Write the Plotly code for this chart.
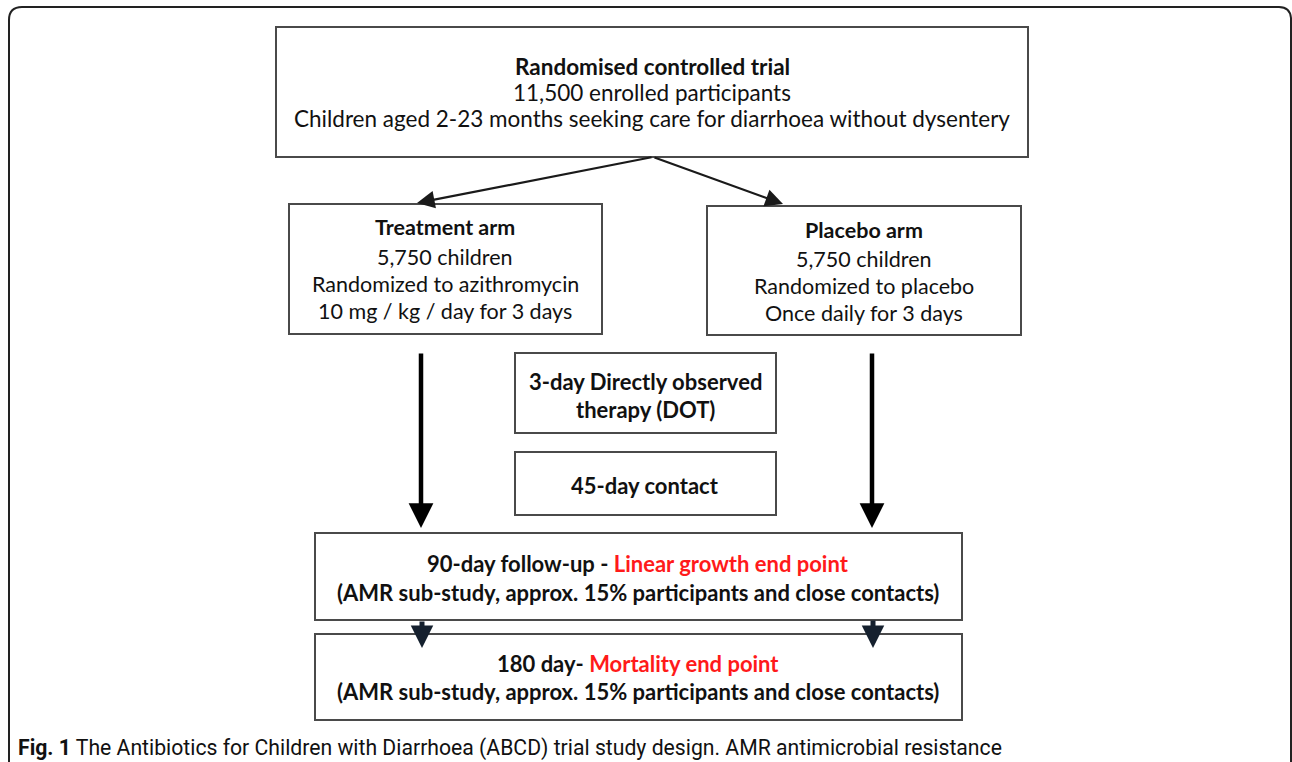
import plotly.graph_objects as go

W, H = 1292, 762

# Box geometry (x0, y0, x1, y1) in pixel space
box_names = ["trial", "treatment", "placebo", "dot", "contact", "followup", "mortality"]
box_x0 = [276, 289, 707, 515, 515, 315, 315]
box_y0 = [27, 204, 206, 353, 452, 533, 634]
box_x1 = [1028, 602, 1021, 776, 776, 962, 962]
box_y1 = [157, 334, 335, 433, 515, 620, 720]

# Text lines
line_text = [
    "<b>Randomised controlled trial</b>",
    "11,500 enrolled participants",
    "Children aged 2-23 months seeking care for diarrhoea without dysentery",
    "<b>Treatment arm</b>",
    "5,750 children",
    "Randomized to azithromycin",
    "10 mg / kg / day for 3 days",
    "<b>Placebo arm</b>",
    "5,750 children",
    "Randomized to placebo",
    "Once daily for 3 days",
    "<b>3-day Directly observed</b>",
    "<b>therapy (DOT)</b>",
    "<b>45-day contact</b>",
    "<b>90-day follow-up - <span style='color:#ff1a1a'>Linear growth end point</span></b>",
    "<b>(AMR sub-study, approx. 15% participants and close contacts)</b>",
    "<b>180 day- <span style='color:#ff1a1a'>Mortality end point</span></b>",
    "<b>(AMR sub-study, approx. 15% participants and close contacts)</b>",
]
line_x = [652, 652, 652, 445, 445, 445, 445, 864, 864, 864, 864, 645, 645, 645, 638, 638, 638, 638]
line_y = [66, 92, 118, 227, 257, 284, 311, 230, 259, 286, 313, 381, 409, 485, 563, 592, 663, 691]
line_size = [22.5, 22.5, 22.5, 21.5, 21.5, 21.5, 21.5, 21.5, 21.5, 21.5, 21.5,
             22, 22, 22, 22, 22, 22, 22]

caption = "<b>Fig. 1</b> The Antibiotics for Children with Diarrhoea (ABCD) trial study design. AMR antimicrobial resistance"

# Arrows
arrow_tail_x = [653, 653, 421, 872, 422, 873]
arrow_tail_y = [157, 157, 352, 352, 620, 619]
arrow_head_x = [417, 783, 421, 872, 422, 873]
arrow_head_y = [203, 204, 528, 528, 648, 648]
arrow_width = [2.2, 2.2, 4.5, 4.5, 5, 5]
arrow_color = ["#1a1a1a", "#1a1a1a", "#000000", "#000000", "#15202e", "#15202e"]
arrow_size = [1.6, 1.6, 1.1, 1.1, 0.9, 0.9]

fig = go.Figure()

shapes = []
shapes.append(dict(
    type="path", xref="x", yref="y",
    path="M 9,790 L 9,20 Q 9,7 22,7 L 1279,7 Q 1290,7 1291,18 L 1291,790",
    line=dict(color="#222222", width=2), fillcolor="rgba(0,0,0,0)"))
for x0, y0, x1, y1 in zip(box_x0, box_y0, box_x1, box_y1):
    shapes.append(dict(type="rect", xref="x", yref="y", x0=x0, y0=y0, x1=x1, y1=y1,
                       line=dict(color="#4a4a4a", width=2), fillcolor="white", layer="below"))

annotations = []
FONT = "Lato, Open Sans, sans-serif"
for t, x, y, s in zip(line_text, line_x, line_y, line_size):
    annotations.append(dict(x=x, y=y, xref="x", yref="y", text=t, showarrow=False,
                            xanchor="center", yanchor="middle",
                            font=dict(family=FONT, size=s, color="#111111")))

for tx, ty, hx, hy, w, c, s in zip(arrow_tail_x, arrow_tail_y, arrow_head_x, arrow_head_y,
                                   arrow_width, arrow_color, arrow_size):
    annotations.append(dict(x=hx, y=hy, ax=tx, ay=ty, xref="x", yref="y", axref="x", ayref="y",
                            text="", showarrow=True, arrowhead=2, arrowsize=s,
                            arrowwidth=w, arrowcolor=c, standoff=0, startstandoff=0))

annotations.append(dict(x=16, y=748, xref="x", yref="y", text=caption, showarrow=False,
                        xanchor="left", yanchor="middle",
                        font=dict(family="Roboto, sans-serif", size=21.2, color="#111111")))

fig.update_layout(
    width=W, height=H,
    margin=dict(l=0, r=0, t=0, b=0),
    paper_bgcolor="white", plot_bgcolor="white",
    xaxis=dict(range=[0, W], visible=False, fixedrange=True),
    yaxis=dict(range=[H, 0], visible=False, fixedrange=True),
    shapes=shapes, annotations=annotations, showlegend=False,
)

fig.write_html("out.html",
               config={"displayModeBar": False},
               post_script="document.body.style.margin='0px';document.body.style.overflow='hidden';")
